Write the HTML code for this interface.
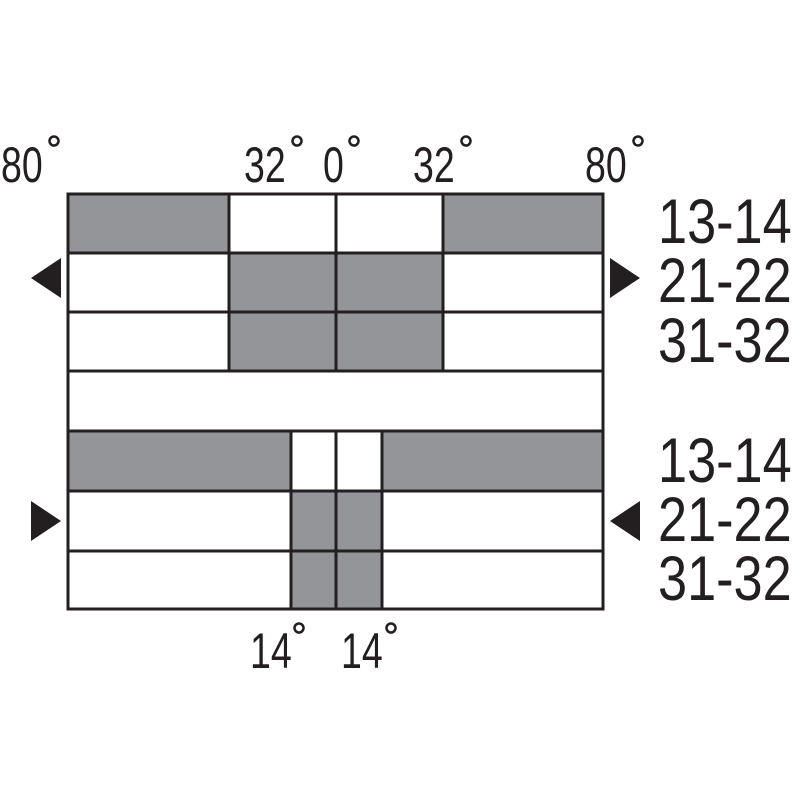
<!DOCTYPE html>
<html><head><style>body{margin:0;background:#fff}svg{display:block}</style></head>
<body>
<svg width="800" height="800" viewBox="0 0 800 800" xmlns="http://www.w3.org/2000/svg">
<g fill="#939598">
<rect x="68" y="194" width="161" height="59"/>
<rect x="443" y="194" width="160" height="59"/>
<rect x="229" y="253" width="214" height="118"/>
<rect x="68" y="431" width="223" height="60"/>
<rect x="382" y="431" width="221" height="60"/>
<rect x="291" y="491" width="91" height="118"/>
</g>
<g stroke="#231f20" stroke-width="3" fill="none">
<rect x="68" y="194" width="535" height="415"/>
<line x1="68" y1="253" x2="603" y2="253"/>
<line x1="68" y1="312" x2="603" y2="312"/>
<line x1="68" y1="371" x2="603" y2="371"/>
<line x1="68" y1="431" x2="603" y2="431"/>
<line x1="68" y1="491" x2="603" y2="491"/>
<line x1="68" y1="551" x2="603" y2="551"/>
<line x1="229" y1="194" x2="229" y2="371"/>
<line x1="336" y1="194" x2="336" y2="371"/>
<line x1="443" y1="194" x2="443" y2="371"/>
<line x1="291" y1="431" x2="291" y2="609"/>
<line x1="336" y1="431" x2="336" y2="609"/>
<line x1="382" y1="431" x2="382" y2="609"/>
</g>
<g fill="#231f20">
<polygon points="31,278 61,258 61,298"/>
<polygon points="640,278 610,258 610,298"/>
<polygon points="61,521 31,501 31,541"/>
<polygon points="610,521 640,501 640,541"/>
</g>
<g font-family="Liberation Sans, sans-serif" fill="#231f20" font-size="63">
<text transform="translate(658,243) scale(0.83,1)">13-14</text>
<text transform="translate(658,302) scale(0.83,1)">21-22</text>
<text transform="translate(658,362) scale(0.83,1)">31-32</text>
<text transform="translate(658,482) scale(0.83,1)">13-14</text>
<text transform="translate(658,541) scale(0.83,1)">21-22</text>
<text transform="translate(658,600) scale(0.83,1)">31-32</text>
</g>
<g font-family="Liberation Sans, sans-serif" fill="#231f20" font-size="50">
<text transform="translate(1,182) scale(0.75,1)">80</text>
<text transform="translate(244,182) scale(0.75,1)">32</text>
<text transform="translate(323,182) scale(0.75,1)">0</text>
<text transform="translate(413,182) scale(0.75,1)">32</text>
<text transform="translate(585,182) scale(0.75,1)">80</text>
<text transform="translate(250,668) scale(0.75,1)">14</text>
<text transform="translate(341,668) scale(0.75,1)">14</text>
</g>
<g stroke="#231f20" stroke-width="2.5" fill="none">
<circle cx="54" cy="141" r="4.5"/>
<circle cx="297" cy="141" r="4.5"/>
<circle cx="354" cy="141" r="4.5"/>
<circle cx="466" cy="141" r="4.5"/>
<circle cx="638" cy="141" r="4.5"/>
<circle cx="299" cy="628" r="4.5"/>
<circle cx="391" cy="628" r="4.5"/>
</g>
</svg>
</body></html>
